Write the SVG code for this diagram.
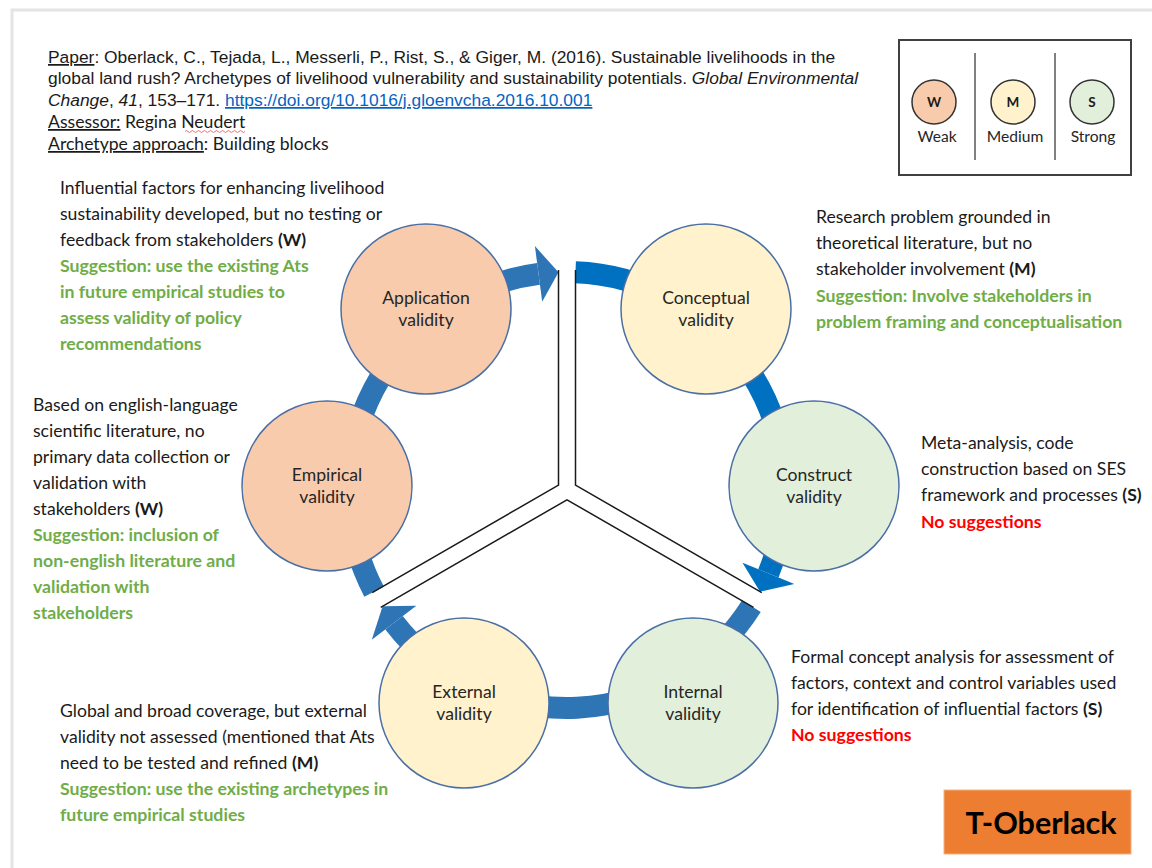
<svg xmlns="http://www.w3.org/2000/svg" width="1152" height="868" viewBox="0 0 1152 868">
<style>
.arial{font-family:"Liberation Sans",Arial,sans-serif;font-size:17.4px;fill:#1a1a1a}
.cal{font-family:Lato,"Open Sans",sans-serif;font-size:17.6px;fill:#1a1a1a}
.sug{font-family:Lato,"Open Sans",sans-serif;font-size:17.7px;font-weight:bold;fill:#70AD47}
.none{font-family:Lato,"Open Sans",sans-serif;font-size:17.7px;font-weight:bold;fill:#FF0000}
.lbl{font-family:Lato,"Open Sans",sans-serif;font-size:17.6px;fill:#262626;text-anchor:middle}
.u{text-decoration:underline}
.b{font-weight:bold}
.i{font-style:italic}
.weak{fill:#F8CBAD;stroke:#4A6FA5;stroke-width:1.5}
.med{fill:#FFF2CC;stroke:#4A6FA5;stroke-width:1.5}
.str{fill:#E2EFDA;stroke:#4A6FA5;stroke-width:1.5}
.band{fill:none;stroke-width:22;stroke-linecap:butt}
.m{stroke:#2E75B6}
.br{stroke:#0070C0}
.yl{fill:none;stroke:#1a1a1a;stroke-width:1.5}
.lg{stroke:#333;stroke-width:1.5}
</style>
<rect x="12" y="10" width="1150" height="870" fill="#ffffff" stroke="#e4e4e4" stroke-width="3"/>

<g id="header">
<text class="arial" x="48" y="63"><tspan class="u">Paper</tspan>: Oberlack, C., Tejada, L., Messerli, P., Rist, S., &amp; Giger, M. (2016). Sustainable livelihoods in the</text>
<text class="arial" x="48" y="84">global land rush? Archetypes of livelihood vulnerability and sustainability potentials. <tspan class="i">Global Environmental</tspan></text>
<text class="arial" x="48" y="106"><tspan class="i">Change</tspan>, <tspan class="i">41</tspan>, 153–171. <tspan class="u" fill="#0563C1">https://doi.org/10.1016/j.gloenvcha.2016.10.001</tspan></text>
<text class="cal" x="48" y="128"><tspan class="u">Assessor:</tspan> Regina Neudert</text>
<path d="M185 131.5 q1.5 -2 3 0 t3 0 t3 0 t3 0 t3 0 t3 0 t3 0 t3 0 t3 0 t3 0 t3 0 t3 0 t3 0 t3 0 t3 0 t3 0 t3 0 t3 0 t3 0 t3 0" fill="none" stroke="#e05050" stroke-width="0.8"/>
<text class="cal" x="48" y="150"><tspan class="u">Archetype approach</tspan>: Building blocks</text>
</g>

<g id="legend">
<rect x="899" y="40" width="232" height="135" fill="#fff" stroke="#404040" stroke-width="2"/>
<line x1="975" y1="53" x2="975" y2="160" stroke="#808080" stroke-width="2"/>
<line x1="1055" y1="53" x2="1055" y2="160" stroke="#808080" stroke-width="2"/>
<circle cx="934" cy="102" r="22" fill="#F8CBAD" class="lg"/>
<circle cx="1013" cy="102" r="22" fill="#FFF2CC" class="lg"/>
<circle cx="1092" cy="102" r="22" fill="#E2EFDA" class="lg"/>
<text x="934" y="107" font-family="Lato,sans-serif" font-size="13.5" font-weight="bold" text-anchor="middle" fill="#1a1a1a">W</text>
<text x="1013" y="107" font-family="Lato,sans-serif" font-size="13.5" font-weight="bold" text-anchor="middle" fill="#1a1a1a">M</text>
<text x="1092" y="107" font-family="Lato,sans-serif" font-size="13.5" font-weight="bold" text-anchor="middle" fill="#1a1a1a">S</text>
<text x="937" y="142" font-family="Lato,sans-serif" font-size="15.6" text-anchor="middle" fill="#262626">Weak</text>
<text x="1015" y="142" font-family="Lato,sans-serif" font-size="15.6" text-anchor="middle" fill="#262626">Medium</text>
<text x="1093" y="142" font-family="Lato,sans-serif" font-size="15.6" text-anchor="middle" fill="#262626">Strong</text>
</g>

<g id="connectors">
<path class="band m" d="M374.1 591.6 A218 218 0 0 1 538.55 273.9"/>
<polygon fill="#2E75B6" points="534.9,246.1 542.2,301.7 558.5,272.2"/>
<path class="band br" d="M575.48 272.17 A218 218 0 0 1 768.4 573.4"/>
<polygon fill="#0070C0" points="794.3,584.1 742.5,562.7 759.9,591.6"/>
<path class="band m" d="M751.4 606.2 A218 218 0 0 1 394.05 622.7"/>
<polygon fill="#2E75B6" points="371.8,639.8 416.3,605.7 382.6,606.3"/>
<polyline class="yl" points="558.5,270 558.5,485.1 372.2,592.6"/>
<polyline class="yl" points="575.5,270 575.5,485.1 761.8,592.6"/>
<polyline class="yl" points="380.7,607.4 567,499.8 753.5,607.4"/>
</g>

<g id="application">
<circle class="weak" cx="426" cy="309" r="85"/>
<text class="lbl" x="426" y="304">Application</text>
<text class="lbl" x="426" y="326">validity</text>
</g>
<g id="conceptual">
<circle class="med" cx="706" cy="309" r="85"/>
<text class="lbl" x="706" y="304">Conceptual</text>
<text class="lbl" x="706" y="326">validity</text>
</g>
<g id="construct">
<circle class="str" cx="814" cy="486" r="85"/>
<text class="lbl" x="814" y="481">Construct</text>
<text class="lbl" x="814" y="503">validity</text>
</g>
<g id="internal">
<circle class="str" cx="693" cy="703" r="85"/>
<text class="lbl" x="693" y="698">Internal</text>
<text class="lbl" x="693" y="720">validity</text>
</g>
<g id="external">
<circle class="med" cx="464" cy="703" r="85"/>
<text class="lbl" x="464" y="698">External</text>
<text class="lbl" x="464" y="720">validity</text>
</g>
<g id="empirical">
<circle class="weak" cx="327" cy="486" r="85"/>
<text class="lbl" x="327" y="481">Empirical</text>
<text class="lbl" x="327" y="503">validity</text>
</g>

<g id="application-note">
<text class="cal" x="60" y="194">Influential factors for enhancing livelihood</text>
<text class="cal" x="60" y="220">sustainability developed, but no testing or</text>
<text class="cal" x="60" y="246">feedback from stakeholders <tspan class="b">(W)</tspan></text>
<text class="sug" x="60" y="272">Suggestion: use the existing Ats</text>
<text class="sug" x="60" y="298">in future empirical studies to</text>
<text class="sug" x="60" y="324">assess validity of policy</text>
<text class="sug" x="60" y="350">recommendations</text>
</g>
<g id="conceptual-note">
<text class="cal" x="816" y="223">Research problem grounded in</text>
<text class="cal" x="816" y="249">theoretical literature, but no</text>
<text class="cal" x="816" y="275">stakeholder involvement <tspan class="b">(M)</tspan></text>
<text class="sug" x="816" y="302">Suggestion: Involve stakeholders in</text>
<text class="sug" x="816" y="328">problem framing and conceptualisation</text>
</g>
<g id="construct-note">
<text class="cal" x="921" y="449">Meta-analysis, code</text>
<text class="cal" x="921" y="475">construction based on SES</text>
<text class="cal" x="921" y="501">framework and processes <tspan class="b">(S)</tspan></text>
<text class="none" x="921" y="528">No suggestions</text>
</g>
<g id="empirical-note">
<text class="cal" x="33" y="411">Based on english-language</text>
<text class="cal" x="33" y="437">scientific literature, no</text>
<text class="cal" x="33" y="463">primary data collection or</text>
<text class="cal" x="33" y="489">validation with</text>
<text class="cal" x="33" y="515">stakeholders <tspan class="b">(W)</tspan></text>
<text class="sug" x="33" y="541">Suggestion: inclusion of</text>
<text class="sug" x="33" y="567">non-english literature and</text>
<text class="sug" x="33" y="593">validation with</text>
<text class="sug" x="33" y="619">stakeholders</text>
</g>
<g id="internal-note">
<text class="cal" x="791" y="663">Formal concept analysis for assessment of</text>
<text class="cal" x="791" y="689">factors, context and control variables used</text>
<text class="cal" x="791" y="715">for identification of influential factors <tspan class="b">(S)</tspan></text>
<text class="none" x="791" y="741">No suggestions</text>
</g>
<g id="external-note">
<text class="cal" x="60" y="717">Global and broad coverage, but external</text>
<text class="cal" x="60" y="743">validity not assessed (mentioned that Ats</text>
<text class="cal" x="60" y="769">need to be tested and refined <tspan class="b">(M)</tspan></text>
<text class="sug" x="60" y="795">Suggestion: use the existing archetypes in</text>
<text class="sug" x="60" y="821">future empirical studies</text>
</g>

<g id="tag">
<rect x="944" y="790" width="187" height="64" fill="#ED7D31" stroke="#F4B183" stroke-width="1"/>
<text x="1041" y="834" font-family="Lato,sans-serif" font-size="30.5" font-weight="bold" text-anchor="middle" fill="#000">T-Oberlack</text>
</g>
</svg>
